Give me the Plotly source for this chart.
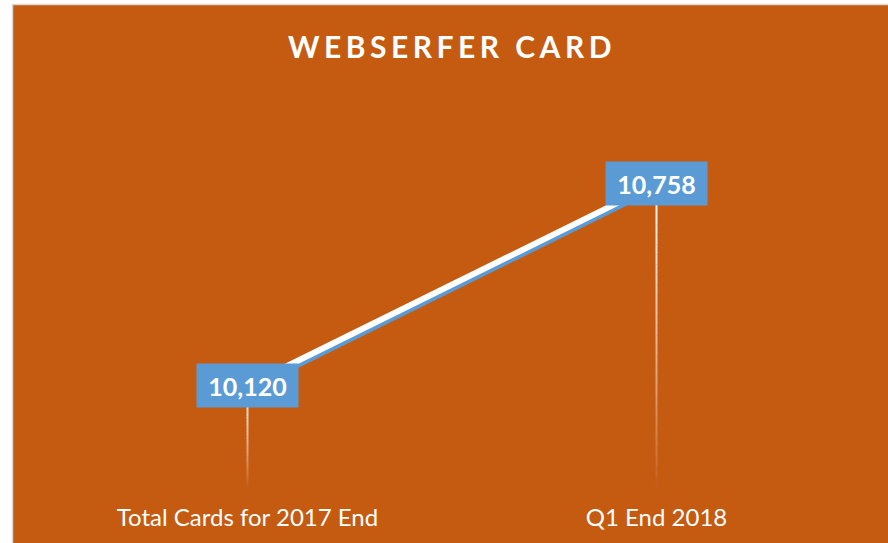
import plotly.graph_objects as go

# ---- data ----
categories = ["Total Cards for 2017 End", "Q1 End 2018"]
values = [10120, 10758]
label_texts = ["10,120", "10,758"]
title_text = "WEBSERFER CARD"

# ---- style ----
W, H = 888, 543
ORANGE = "#C55A11"
BLUE = "#5B9BD5"
Y_MIN, Y_MAX = 9800, 11000
M_L, M_R, M_T, M_B = 43, 27, 107, 56
plot_w = W - M_L - M_R
plot_h = H - M_T - M_B
units_per_px = (Y_MAX - Y_MIN) / plot_h
FONT = "Lato"

fig = go.Figure()

# drop lines with a fading gradient (point -> axis)
n_seg = 30
for cat, v in zip(categories, values):
    for i in range(n_seg):
        y0 = v - (v - Y_MIN) * i / n_seg
        y1 = v - (v - Y_MIN) * (i + 1) / n_seg
        alpha = 1.0 * (1 - (i + 0.5) / n_seg) ** 0.8
        fig.add_trace(go.Scatter(
            x=[cat, cat], y=[y0, y1], mode="lines",
            line=dict(color=f"rgba(255,255,255,{alpha:.3f})", width=2),
            hoverinfo="skip", showlegend=False))

# blue shadow of the main line (offset a few px downward)
shadow_off = 4 * units_per_px
fig.add_trace(go.Scatter(
    x=categories, y=[v - shadow_off for v in values], mode="lines",
    line=dict(color=BLUE, width=6), hoverinfo="skip", showlegend=False))

# main white line
fig.add_trace(go.Scatter(
    x=categories, y=values, mode="lines",
    line=dict(color="white", width=6), showlegend=False))

# data labels in blue boxes
for cat, v, t in zip(categories, values, label_texts):
    fig.add_annotation(
        x=cat, y=v, text=f"<b>{t}</b>", showarrow=False,
        xanchor="center", yanchor="middle",
        width=99, height=41, bgcolor=BLUE,
        font=dict(family=FONT, size=25, color="white"))

# orange chart-area background with light border
def px_x(px):
    return (px - M_L) / plot_w

def px_y(py):
    return 1 - (py - M_T) / plot_h

fig.add_shape(type="rect", xref="paper", yref="paper", layer="below",
              x0=px_x(12.5), x1=px_x(W + 5), y0=px_y(H + 5), y1=px_y(4.5),
              fillcolor=ORANGE, line=dict(color="#D9D9D9", width=1.5))

fig.update_layout(
    width=W, height=H,
    margin=dict(l=M_L, r=M_R, t=M_T, b=M_B, pad=0),
    paper_bgcolor="white",
    plot_bgcolor="rgba(0,0,0,0)",
    title=dict(text=f"<b>{title_text}</b>", x=452 / W, xanchor="center",
               xref="container",
               y=1 - 47 / H, yanchor="middle", yref="container",
               font=dict(family=FONT, size=30, color="white")),
    xaxis=dict(type="category", range=[-0.5, 1.5], showgrid=False,
               zeroline=False, showline=False, ticks="",
               ticklabelstandoff=14,
               tickfont=dict(family=FONT, size=24, color="white")),
    yaxis=dict(range=[Y_MIN, Y_MAX], visible=False, showgrid=False,
               zeroline=False),
    showlegend=False,
)

post = """
document.body.style.margin = '0';
document.body.style.overflow = 'hidden';
var gd = document.getElementById('{plot_id}');
function ls(){ var t = gd.querySelector('.gtitle'); if(t){ t.style.letterSpacing='4.5px'; } }
ls();
if (gd.on) { gd.on('plotly_afterplot', ls); }
"""

fig.write_html("out.html", post_script=post, config={"displayModeBar": False})
